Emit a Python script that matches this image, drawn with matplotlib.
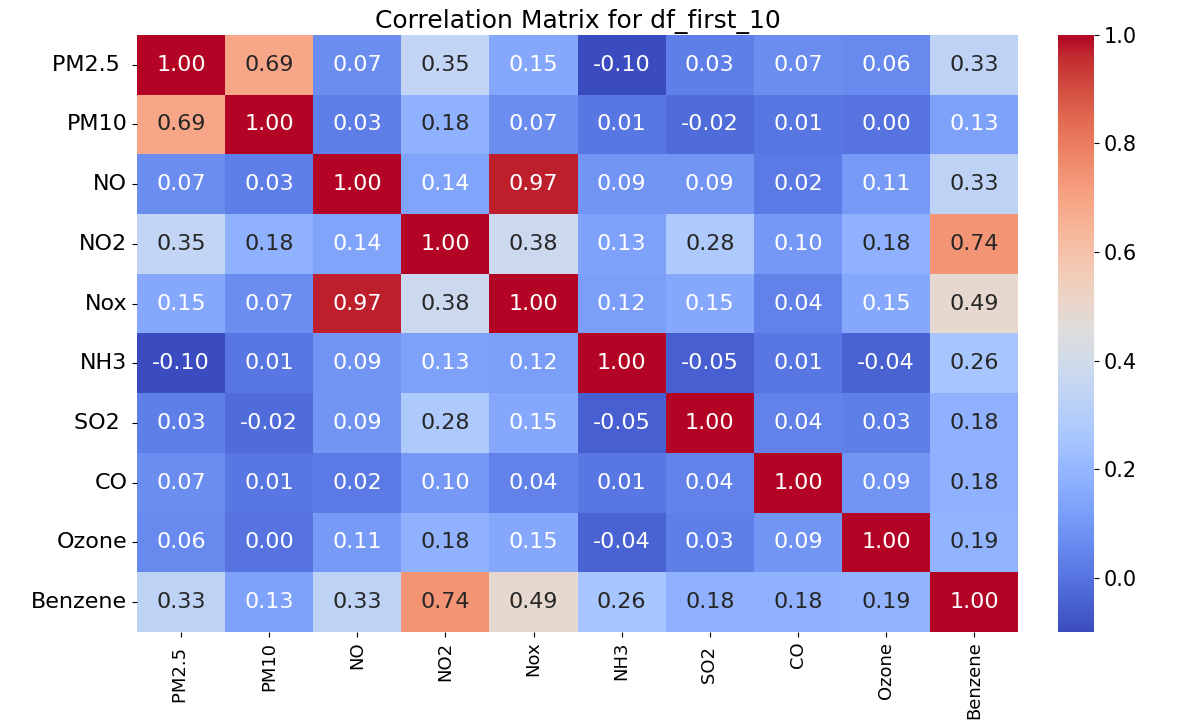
import matplotlib
matplotlib.use("Agg")
import matplotlib.pyplot as plt
import seaborn as sns
import numpy as np
import pandas as pd

labels = ["PM2.5 ", "PM10", "NO", "NO2", "Nox", "NH3", "SO2 ", "CO", "Ozone", "Benzene"]

row_pm25 = [1.00, 0.69, 0.07, 0.35, 0.15, -0.10, 0.03, 0.07, 0.06, 0.33]
row_pm10 = [0.69, 1.00, 0.03, 0.18, 0.07, 0.01, -0.02, 0.01, 0.00, 0.13]
row_no = [0.07, 0.03, 1.00, 0.14, 0.97, 0.09, 0.09, 0.02, 0.11, 0.33]
row_no2 = [0.35, 0.18, 0.14, 1.00, 0.38, 0.13, 0.28, 0.10, 0.18, 0.74]
row_nox = [0.15, 0.07, 0.97, 0.38, 1.00, 0.12, 0.15, 0.04, 0.15, 0.49]
row_nh3 = [-0.10, 0.01, 0.09, 0.13, 0.12, 1.00, -0.05, 0.01, -0.04, 0.26]
row_so2 = [0.03, -0.02, 0.09, 0.28, 0.15, -0.05, 1.00, 0.04, 0.03, 0.18]
row_co = [0.07, 0.01, 0.02, 0.10, 0.04, 0.01, 0.04, 1.00, 0.09, 0.18]
row_ozone = [0.06, 0.00, 0.11, 0.18, 0.15, -0.04, 0.03, 0.09, 1.00, 0.19]
row_benzene = [0.33, 0.13, 0.33, 0.74, 0.49, 0.26, 0.18, 0.18, 0.19, 1.00]

corr = pd.DataFrame(
    [row_pm25, row_pm10, row_no, row_no2, row_nox, row_nh3, row_so2, row_co, row_ozone, row_benzene],
    index=labels, columns=labels,
)

fig = plt.figure(figsize=(11.84, 7.26), dpi=100)
ax = fig.add_axes([0.1157, 0.1295, 0.7443, 0.8225])
cax = fig.add_axes([0.8936, 0.1295, 0.0305, 0.8225])

sns.heatmap(corr, annot=True, fmt=".2f", cmap="coolwarm", ax=ax, cbar_ax=cax,
            annot_kws={"fontsize": 16})

ax.set_title("Correlation Matrix for df_first_10", fontsize=18, pad=5)
ax.tick_params(axis="y", labelsize=16, rotation=0)
ax.tick_params(axis="x", labelsize=13, rotation=90)
cax.tick_params(labelsize=15)

fig.savefig("out.png", dpi=100)
